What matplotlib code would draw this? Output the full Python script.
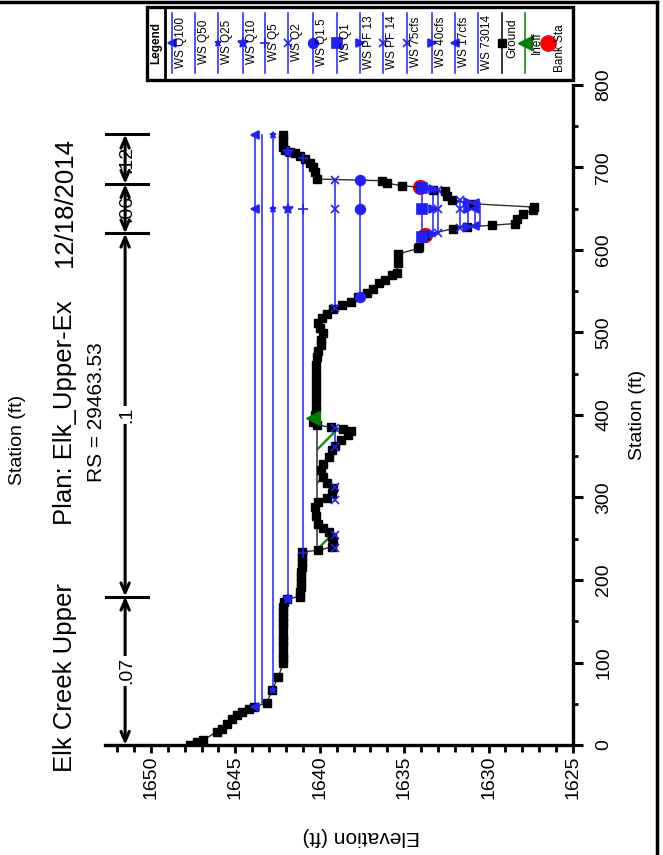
import numpy as np
import matplotlib
matplotlib.use('Agg')
import matplotlib.pyplot as plt
from matplotlib.patches import Rectangle

plt.rcParams['font.family'] = ['Liberation Sans', 'DejaVu Sans']
plt.rcParams['hatch.linewidth'] = 1.7

# ---------------- data ----------------
ground_sta = [0, 4, 6, 16, 20, 26, 32, 36, 40, 44, 46, 51, 67, 83,
              99, 105, 110, 120, 126, 132, 143, 149, 155, 161, 167, 173, 177,
              180, 186, 192, 198, 204, 210, 216, 222, 228, 234, 236,
              240, 246, 252, 258, 263, 268, 277, 289, 295, 299, 305, 311, 317, 325,
              333, 341, 349, 357, 363, 370, 376, 380, 383, 385, 388, 392, 400, 410,
              420, 430, 440, 450, 460, 470, 478, 485, 491, 499, 505, 511, 517, 523,
              529, 533, 537, 543, 548, 553, 560, 564, 570, 572, 584, 595, 602, 604,
              618, 626, 628, 630, 632, 638, 644, 648, 652, 656, 661, 665, 671, 673,
              676, 678, 681, 684, 686, 695, 701, 705, 710, 714, 717, 719, 721, 725,
              733, 739]
ground_elev = [1647.69, 1647.29, 1646.90, 1646.10, 1645.80, 1645.50, 1645.20, 1644.90,
               1644.60, 1644.20, 1643.90, 1643.15, 1642.80, 1642.45,
               1642.16, 1642.16, 1642.16, 1642.16, 1642.16, 1642.16, 1642.16, 1642.16,
               1642.16, 1642.16, 1642.16, 1642.10, 1641.96,
               1641.17, 1641.15, 1641.12, 1641.12, 1641.10, 1641.10, 1641.08, 1641.06,
               1641.05, 1641.05, 1640.09,
               1639.30, 1639.20, 1639.25, 1639.45, 1639.79, 1640.09, 1640.23, 1640.28,
               1640.09, 1639.60, 1639.30, 1639.20, 1639.55, 1639.80,
               1639.95, 1639.80, 1639.45, 1639.30, 1639.10, 1638.75, 1638.30, 1638.15,
               1638.60, 1639.35, 1640.15, 1640.38, 1640.28, 1640.23,
               1640.23, 1640.23, 1640.23, 1640.23, 1640.23, 1640.18, 1640.09, 1639.95,
               1639.95, 1639.83, 1639.99, 1640.09, 1639.89, 1639.59,
               1639.20, 1638.70, 1638.17, 1637.72, 1637.22, 1636.83, 1636.47, 1636.14,
               1635.74, 1635.44, 1635.38, 1635.38, 1634.16, 1634.10,
               1633.77, 1632.09, 1631.30, 1629.82, 1628.44, 1628.34, 1627.98, 1627.35,
               1627.29, 1630.91, 1632.19, 1632.48, 1632.58, 1633.27,
               1634.06, 1635.15, 1636.04, 1636.33, 1640.18, 1640.28, 1640.38, 1640.58,
               1640.88, 1641.17, 1641.47, 1641.77, 1642.06, 1642.16,
               1642.16, 1642.16]

ws_names = ['WS Q100', 'WS Q50', 'WS Q25', 'WS Q10', 'WS Q5', 'WS Q2', 'WS Q1.5', 'WS Q1',
            'WS PF 13', 'WS PF 14', 'WS 75cfs', 'WS 40cfs', 'WS 17cfs', 'WS 73014']
ws_elev = [1643.84, 1643.41, 1642.79, 1641.90, 1640.98, 1639.10, 1637.62, 1633.96,
           1633.28, 1632.98, 1631.70, 1631.20, 1630.80, 1630.50]
ws_left = [46, 51, 67, 177, 233, 530, 543, 616, 619, 620, 627, 628, 629, 629.5]
ws_right = [739, 739, 739, 719, 711, 685, 685, 675, 674, 673, 660, 658, 657, 656.5]
ws_markers = ['<', '', '*', '*', '+', 'x', 'o', 's', '>', 'x', 'x', '>', '<', '']
ws_msize = [6, 0, 5, 7, 7, 6, 7, 7, 6, 6, 6, 6, 6, 0]
q2_pond_left = [239, 297, 361]
q2_pond_right = [255, 313, 384]

ineff_elev = 1640.18
ineff_left = 236
ineff_right = 392

bank_sta = [618, 676]
bank_elev = [1633.77, 1634.06]

n_break_sta = [0, 180, 620, 680, 740]
n_values = ['.07', '.1', '.06', '.12']

elev_ticks = [1650, 1645, 1640, 1635, 1630, 1625]
sta_ticks = [0, 100, 200, 300, 400, 500, 600, 700, 800]

# ---------------- figure ----------------
W, H = 663, 855
fig = plt.figure(figsize=(W / 100, H / 100), dpi=100)
fig.patch.set_facecolor('white')

ax = fig.add_axes([105 / W, 1 - 745 / H, 468 / W, 660 / H])
ax.set_xlim(1652.72, 1625)
ax.set_ylim(0, 800)
ax.set_facecolor('none')
for s in ['top', 'left']:
    ax.spines[s].set_visible(False)
for s in ['bottom', 'right']:
    ax.spines[s].set_linewidth(2.4)

ax.set_xticks(elev_ticks)
ax.set_xticks(np.arange(1625, 1653, 1), minor=True)
ax.set_xticklabels([str(t) for t in elev_ticks])
ax.yaxis.tick_right()
ax.set_yticks(sta_ticks)
ax.set_yticks(np.arange(50, 800, 100), minor=True)
ax.set_yticklabels([str(t) for t in sta_ticks])
ax.tick_params(axis='x', which='major', direction='out', length=6, width=2, labelsize=14,
               labelrotation=90, pad=1.5)
ax.tick_params(axis='x', which='minor', direction='out', length=5, width=2)
ax.tick_params(axis='y', which='major', direction='out', length=7, width=2.2, labelsize=14,
               labelrotation=90, pad=9)
ax.tick_params(axis='y', which='minor', direction='out', length=3.5, width=2)
for lab in ax.get_yticklabels():
    lab.set_va('center')
    lab.set_ha('left')

# ineffective area hatch
gs = np.array(ground_sta, float)
ge = np.array(ground_elev, float)
msk = (gs >= ineff_left) & (gs <= ineff_right)
ax.fill_betweenx(gs[msk], ge[msk], ineff_elev, where=ge[msk] <= ineff_elev,
                 interpolate=True, facecolor='none', edgecolor='#109010', hatch='/',
                 linewidth=0, zorder=4.8)
ax.plot([ineff_elev, ineff_elev], [ineff_left, ineff_right - 2], color='#404040', lw=1.2, zorder=4.9)

# water surfaces
blue = '#1f1fff'
for e, a, b, m, ms in zip(ws_elev, ws_left, ws_right, ws_markers, ws_msize):
    ax.plot([e, e], [a, b], color=blue, lw=1.1, zorder=4)
    if m:
        pts = [a, b] + ([650] if a < 650 < b else [])
        ax.plot([e] * len(pts), pts, linestyle='none', marker=m, color=blue,
                markersize=ms, markeredgewidth=1.2, zorder=6)
for a, b in zip(q2_pond_left, q2_pond_right):
    ax.plot([ws_elev[5], ws_elev[5]], [a, b], color=blue, lw=1.1, zorder=4)
    ax.plot([ws_elev[5]] * 2, [a, b], linestyle='none', marker='x', color=blue,
            markersize=6, markeredgewidth=1.2, zorder=6)

# ground
ax.plot(ground_elev, ground_sta, color='#303030', lw=1.0, zorder=5)
ax.plot(ground_elev, ground_sta, linestyle='none', marker='s', color='black',
        markersize=6, zorder=5)

# bank stations
ax.plot(bank_elev, bank_sta, linestyle='none', marker='o', color='red', markersize=10, zorder=4.5)
# ineff marker
ax.plot([1640.4], [396], marker='<', color='#008000', markersize=10, linestyle='none', zorder=7)

# Manning's n bar (x in axes fraction)
trans = ax.get_yaxis_transform()
xb = 0.043
for s in n_break_sta:
    ax.plot([0.002, 0.092], [s, s], color='black', lw=2.2, transform=trans, clip_on=False, zorder=8)
for i in range(len(n_values)):
    a, b = n_break_sta[i], n_break_sta[i + 1]
    ax.annotate('', xy=(xb, a), xytext=(xb, b), xycoords=trans, textcoords=trans,
                arrowprops=dict(arrowstyle='<->,head_length=0.7,head_width=0.3',
                                color='black', lw=2.2, shrinkA=0, shrinkB=0))
    ax.text(xb + 0.004, (a + b) / 2, n_values[i], transform=trans, rotation=90,
            ha='center', va='center', fontsize=14,
            bbox=dict(facecolor='white', edgecolor='none', pad=1.0) if i < 2 else None,
            zorder=9)

# ---------------- overlay: texts & legend (pixel coords) ----------------
ov = fig.add_axes([0, 0, 1, 1], zorder=10)
ov.set_xlim(0, W)
ov.set_ylim(H, 0)
ov.axis('off')
ov.patch.set_alpha(0)

ov.text(65, 678, 'Elk Creek Upper', rotation=90, ha='center', va='center', fontsize=18.5)
ov.text(65, 413, 'Plan: Elk_Upper-Ex', rotation=90, ha='center', va='center', fontsize=18.5)
ov.text(65, 202, '12/18/2014', rotation=90, ha='center', va='center', fontsize=18.5)
ov.text(97, 412, 'RS = 29463.53', rotation=90, ha='center', va='center', fontsize=15)
ov.text(18, 440, 'Station (ft)', rotation=90, ha='center', va='center', fontsize=14)
ov.text(638, 415, 'Station (ft)', rotation=90, ha='center', va='center', fontsize=14)
ov.text(361, 836, 'Elevation (ft)', rotation=180, ha='center', va='center', fontsize=15)

# page border
ov.plot([0, 657], [2, 2], color='black', lw=2.5)
ov.plot([657, 657], [2, H], color='black', lw=2.5)

# legend
ov.add_patch(Rectangle((147, 7), 426, 73, facecolor='white', edgecolor='black', lw=2.4))
ov.plot([165, 165], [7, 80], color='black', lw=2)
ov.text(156, 43, 'Legend', rotation=90, ha='center', va='center', fontsize=8.5, fontweight='bold')
leg_x = [172, 195, 218, 243, 265, 288, 313, 337, 360, 383, 407, 432, 455, 478]
for x, name, m, ms in zip(leg_x, ws_names, ws_markers, ws_msize):
    ov.plot([x, x], [13, 73], color=blue, lw=1.1)
    if m:
        ov.plot([x], [43], marker=m, color=blue, markersize=ms, markeredgewidth=1.2)
    ov.text(x + 9, 42, name, rotation=90, ha='center', va='center', fontsize=8.5)
ov.plot([502, 502], [13, 73], color='black', lw=1.1)
ov.plot([502], [43], marker='s', color='black', markersize=6)
ov.text(512, 38, 'Ground', rotation=90, ha='center', va='center', fontsize=8.5)
ov.plot([525, 525], [13, 73], color='#008000', lw=1.1)
ov.plot([525], [43], marker='<', color='#008000', markersize=10)
ov.text(537, 43, 'Ineff', rotation=90, ha='center', va='center', fontsize=8.5)
ov.plot([548], [43], marker='o', color='red', markersize=11)
ov.text(560, 48, 'Bank Sta', rotation=90, ha='center', va='center', fontsize=8.5)

fig.savefig('out.png', dpi=100)
